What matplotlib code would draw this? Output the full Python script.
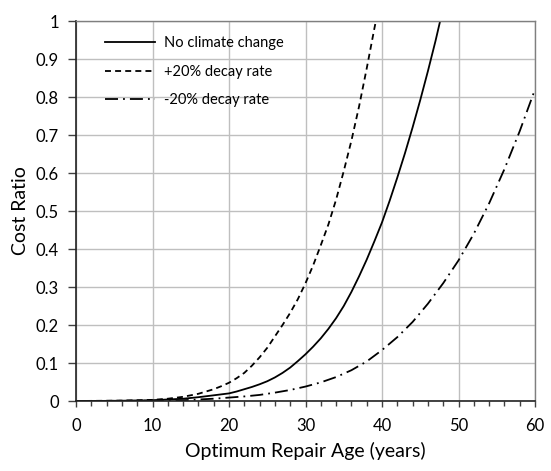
import matplotlib
matplotlib.use("Agg")
import matplotlib.pyplot as plt  # noqa: E402
from matplotlib.ticker import MultipleLocator  # noqa: E402

# values
age_base = [0, 4, 8, 10, 12, 14, 16, 18, 20, 21, 22, 23, 24, 25, 26, 27, 28, 29, 30,
            31, 32, 33, 34, 35, 36, 37, 38, 39, 40, 41, 42, 43, 44, 45, 46, 47, 47.6]
ratio_base = [0, 0.0003, 0.0012, 0.002, 0.004, 0.006, 0.010, 0.015, 0.020, 0.025,
              0.031, 0.037, 0.044, 0.052, 0.062, 0.074, 0.088, 0.105, 0.123, 0.143,
              0.165, 0.19, 0.218, 0.25, 0.287, 0.328, 0.372, 0.42, 0.47, 0.527,
              0.588, 0.652, 0.72, 0.792, 0.868, 0.948, 1.0]

age_plus = [0, 6, 10, 12, 14, 16, 18, 19, 20, 21, 22, 23, 24, 25, 26, 27, 28, 29, 30,
            31, 32, 33, 34, 35, 36, 37, 38, 39, 39.2]
ratio_plus = [0, 0.001, 0.003, 0.006, 0.011, 0.019, 0.031, 0.039, 0.048, 0.06,
              0.074, 0.093, 0.115, 0.14, 0.17, 0.2, 0.232, 0.268, 0.31, 0.357,
              0.41, 0.465, 0.53, 0.605, 0.685, 0.775, 0.875, 0.98, 1.0]

age_minus = [0, 10, 14, 18, 20, 22, 24, 26, 28, 30, 32, 34, 36, 38, 40, 42, 44, 46,
             48, 50, 52, 54, 56, 58, 60]
ratio_minus = [0, 0.0007, 0.002, 0.006, 0.009, 0.012, 0.016, 0.022, 0.029, 0.038,
               0.049, 0.063, 0.081, 0.104, 0.134, 0.168, 0.208, 0.256, 0.31, 0.37,
               0.44, 0.52, 0.61, 0.71, 0.82]

series_labels = ["No climate change", "+20% decay rate", "-20% decay rate"]

plt.rcParams["font.family"] = ["Lato", "DejaVu Sans"]

fig = plt.figure(figsize=(5.51, 4.71), dpi=100)
ax = fig.add_axes([76 / 551, 70 / 471, 459 / 551, 380 / 471])

ax.plot(age_base, ratio_base, color="black", lw=1.3, label=series_labels[0])
ax.plot(age_plus, ratio_plus, color="black", lw=1.3, linestyle=(0, (3.3, 2.3)),
        label=series_labels[1])
ax.plot(age_minus, ratio_minus, color="black", lw=1.3,
        linestyle=(0, (7.2, 2.8, 1.0, 2.8)), label=series_labels[2])

ax.set_xlim(0, 60)
ax.set_ylim(0, 1)
ax.xaxis.set_major_locator(MultipleLocator(10))
ax.xaxis.set_minor_locator(MultipleLocator(2))
ax.yaxis.set_major_locator(MultipleLocator(0.1))
ax.yaxis.set_major_formatter(plt.FuncFormatter(lambda v, p: f"{v:g}"))
ax.grid(True, which="major", color="#BFBFBF", lw=1.0)
ax.set_axisbelow(True)
ax.tick_params(which="both", direction="out", color="#404040", labelsize=12, width=1)
ax.tick_params(axis="y", which="major", length=5.8, pad=6.4)
ax.tick_params(axis="x", which="major", length=4.5, pad=8)
ax.tick_params(axis="x", which="minor", length=3.5)
for s in ["left", "bottom"]:
    ax.spines[s].set_color("#222222")
    ax.spines[s].set_linewidth(1.2)
for s in ["top", "right"]:
    ax.spines[s].set_color("#7F7F7F")
    ax.spines[s].set_linewidth(1.0)

ax.set_xlabel("Optimum Repair Age (years)", fontsize=14)
ax.set_ylabel("Cost Ratio", fontsize=14)
ax.xaxis.set_label_coords(0.5, -0.108)
ax.yaxis.set_label_coords(-0.1024, 0.5)

leg = ax.legend(loc="upper left", frameon=False, fontsize=10.5, handlelength=3.4,
                handletextpad=0.6, labelspacing=1.0, bbox_to_anchor=(0.035, 0.995))

fig.savefig("out.png", dpi=100)
